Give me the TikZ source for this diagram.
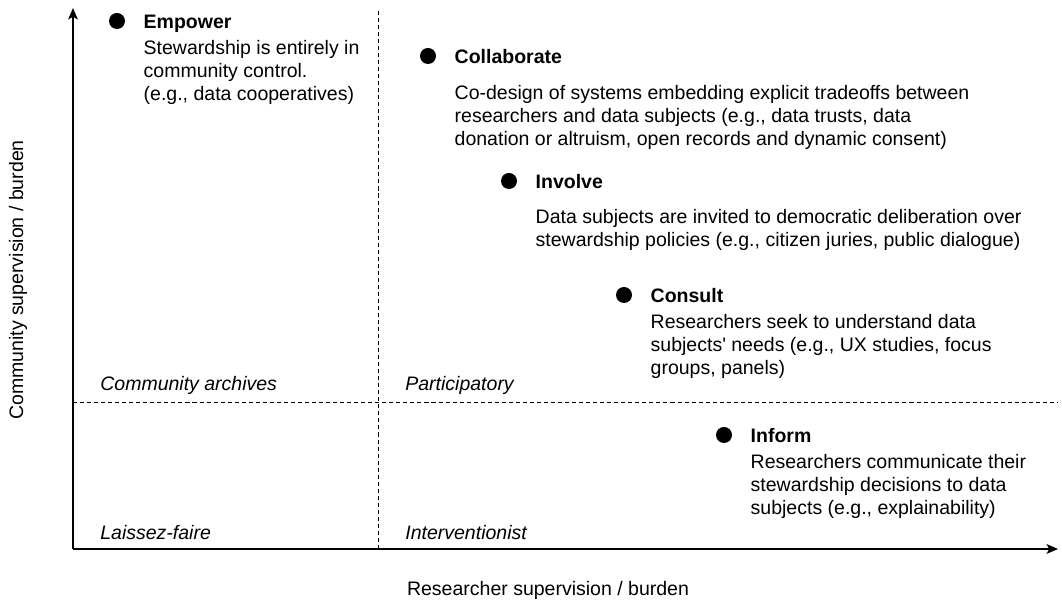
\documentclass[tikz,border=0pt]{standalone}
\usepackage{fontspec}
\setmainfont{Liberation Sans}
\usetikzlibrary{arrows.meta,positioning}

\begin{document}
\begin{tikzpicture}[
    font=\fontsize{11.1}{13.1}\selectfont,
    axis/.style={line width=0.85pt, -{Stealth[length=6.5pt,width=5.5pt,inset=1.5pt]}},
    divider/.style={line width=0.5pt, dash pattern=on 2.3pt off 1.7pt},
    stagedot/.style={circle, fill=black, inner sep=0pt, minimum size=0.32cm},
    stagetitle/.style={font=\fontsize{11.1}{13.1}\selectfont\bfseries, inner sep=0pt, text height=8pt, text depth=0pt},
    note/.style={align=left, inner sep=0pt, anchor=north west},
    quad/.style={font=\fontsize{11.1}{13.1}\selectfont\itshape, inner sep=0pt, anchor=west}
]
    \useasboundingbox (-1.46,-1.04) rectangle (19.78,10.98);

    % Axes
    \coordinate (o) at (0,0);
    \coordinate (ytop) at (0,10.82);
    \coordinate (xend) at (19.7,0);
    \draw[axis] (o) -- (ytop);
    \draw[axis] (o) -- (xend);
    \node[rotate=90] (ylab) at (-1.1,5.38) {Community supervision / burden};
    \node (xlab) at (9.5,-0.82) {Researcher supervision / burden};

    % Quadrants
    \coordinate (vtop) at (6.1,10.78);
    \coordinate (vbot) at (6.1,0);
    \coordinate (hleft) at (0,2.94);
    \coordinate (hright) at (19.7,2.94);
    \draw[divider] (vbot) -- (vtop);
    \draw[divider] (hleft) -- (hright);
    \node[quad] (archives) at (0.54,3.28) {Community archives};
    \node[quad] (particip) at (6.64,3.28) {Participatory};
    \node[quad] (laissez) at (0.54,0.32) {Laissez-faire};
    \node[quad] (interv) at (6.64,0.32) {Interventionist};

    % Stages
    \node[stagedot] (d1) at (0.88,10.56) {};
    \node[stagetitle, right=0.36cm of d1] (empower) {Empower};
    \node[note, below=0.24cm of empower.south west, anchor=north west] (empowertxt)
        {Stewardship is entirely in\\community control.\\(e.g., data cooperatives)};

    \node[stagedot] (d2) at (7.10,9.86) {};
    \node[stagetitle, right=0.36cm of d2] (collab) {Collaborate};
    \node[note, below=0.44cm of collab.south west, anchor=north west] (collabtxt)
        {Co-design of systems embedding explicit tradeoffs between\\researchers and data subjects (e.g., data trusts, data\\donation or altruism, open records and dynamic consent)};

    \node[stagedot] (d3) at (8.72,7.36) {};
    \node[stagetitle, right=0.36cm of d3] (involve) {Involve};
    \node[note, below=0.42cm of involve.south west, anchor=north west] (involvetxt)
        {Data subjects are invited to democratic deliberation over\\stewardship policies (e.g., citizen juries, public dialogue)};

    \node[stagedot] (d4) at (11.02,5.08) {};
    \node[stagetitle, right=0.36cm of d4] (consult) {Consult};
    \node[note, below=0.24cm of consult.south west, anchor=north west] (consulttxt)
        {Researchers seek to understand data\\subjects\textquotesingle{} needs (e.g., UX studies, focus\\groups, panels)};

    \node[stagedot] (d5) at (13.02,2.28) {};
    \node[stagetitle, right=0.36cm of d5] (inform) {Inform};
    \node[note, below=0.24cm of inform.south west, anchor=north west] (informtxt)
        {Researchers communicate their\\stewardship decisions to data\\subjects (e.g., explainability)};
\end{tikzpicture}
\end{document}
